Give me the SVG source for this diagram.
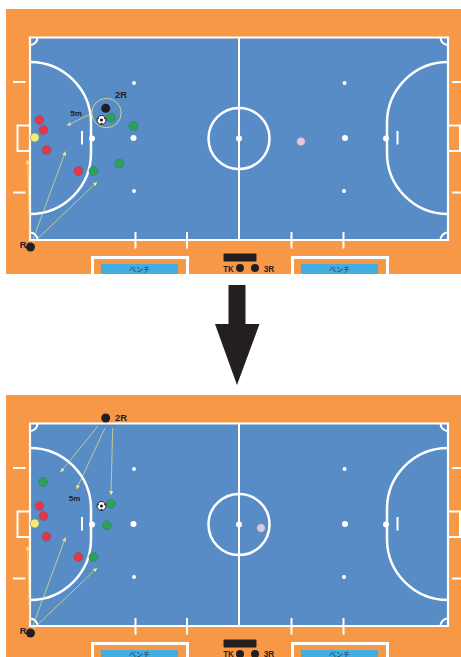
<svg xmlns="http://www.w3.org/2000/svg" width="461" height="657" viewBox="0 0 461 657">
<style>
.w{fill:none;stroke:#fff;stroke-width:2}
.p{stroke-width:2.500}
.t{stroke-width:2.200}
.b{stroke-width:3}
.d{fill:#fff}
.r{fill:#EE3340;stroke:#4a6a9a;stroke-width:.6}
.g{fill:#2DA15A;stroke:#2b7f73;stroke-width:.6}
.y{fill:#F6EE72;stroke:#5b7fa0;stroke-width:.6}
.k{fill:#231F20}
.l{fill:#DCC9DF;stroke:#7c86ad;stroke-width:.6}
.a{fill:none;stroke:#E9E67F;stroke-width:.7;marker-end:url(#ah)}
.x{font:bold 9.300px "Liberation Sans",sans-serif;fill:#231F20;text-anchor:middle}
.s{font-size:8px}
.j{font:7px "Noto Sans CJK JP",sans-serif;fill:#1f3a50;text-anchor:middle}
</style>
<defs>
<marker id="ah" markerUnits="userSpaceOnUse" markerWidth="6" markerHeight="6" refX="4" refY="2" orient="auto"><path d="M0 0L4 2L0 4Z" fill="#F1EC78"/></marker>
<clipPath id="c1"><rect x="6" y="9" width="455" height="265"/></clipPath>
<g id="court">
<rect x="6" y="9" width="455" height="265" fill="#F79847"/>
<rect x="30" y="37.500" width="418" height="202.500" fill="#578CC7"/>
<path class="w p" d="M30 62A61 61 0 0 1 91 123V153A61 61 0 0 1 30 214"/>
<path class="w p" d="M448 62A61 61 0 0 0 387 123V153A61 61 0 0 0 448 214"/>
<path class="w t" d="M30 37.500H448V240H30Z"/>
<path class="w" d="M239 37.500V240"/>
<circle class="w p" cx="239" cy="138.500" r="30.500"/>
<path class="w" d="M30 45A7.500 7.500 0 0 0 37.500 37.500M440.500 37.500A7.500 7.500 0 0 0 448 45M30 232.500A7.500 7.500 0 0 1 37.500 240M440.500 240A7.500 7.500 0 0 1 448 232.500"/>
<path class="w" d="M30 125.500H17.500V151H30M448 125.500H460V151H448"/>
<path class="w" d="M13 82H25.500M13 192.500H25.500M452 82H461M452 192.500H461M82 131V144.500M397.500 131V144.500M135.500 232V248.500M187 232V248.500M291.500 232V248.500M343.500 232V248.500"/>
<g class="d"><circle cx="134" cy="83" r="2"/><circle cx="133.500" cy="138" r="3"/><circle cx="134" cy="191" r="2"/><circle cx="92" cy="138.500" r="3"/><circle cx="239" cy="138.500" r="3"/><circle cx="344.500" cy="83" r="2"/><circle cx="345" cy="138" r="3"/><circle cx="344" cy="191" r="2"/><circle cx="386" cy="138.500" r="3"/></g>
<path class="w b" d="M92.500 275V257.500H187.500V275M292.500 275V257.500H387.500V275"/>
<rect x="101" y="264" width="77" height="11" fill="#41ADE3"/>
<rect x="301" y="264" width="77" height="11" fill="#41ADE3"/>
<rect x="223.500" y="253.500" width="33" height="8" rx="1" class="k"/>
<circle cx="240" cy="268" r="4" class="k"/><circle cx="255" cy="268" r="4" class="k"/>
</g>
<g id="ball"><circle r="4.500" fill="#fff" stroke="#231F20" stroke-width="1"/><circle r="1.600" class="k"/><path class="k" d="M-4.300 -.5L-3.300 -3L-2.400 -1.200ZM4.300 -.5L3.300 -3L2.400 -1.200ZM-1.600 3.900L0 2.800L1.600 3.900Z"/></g>
</defs>

<g id="panel-top">
<g clip-path="url(#c1)"><use href="#court"/></g>
<text class="j" x="139.500" y="272">ベンチ</text>
<text class="j" x="339.500" y="272">ベンチ</text>
<text class="x" x="228.500" y="272" textLength="10.500" lengthAdjust="spacingAndGlyphs">TK</text>
<text class="x" x="269" y="272" textLength="10.500" lengthAdjust="spacingAndGlyphs">3R</text>
</g>
<g id="panel-bottom" transform="translate(0 386)">
<g clip-path="url(#c1)"><use href="#court"/></g>
<text class="j" x="139.500" y="271">ベンチ</text>
<text class="j" x="339.500" y="271">ベンチ</text>
<text class="x" x="228.500" y="270.500" textLength="10.500" lengthAdjust="spacingAndGlyphs">TK</text>
<text class="x" x="269" y="270.500" textLength="10.500" lengthAdjust="spacingAndGlyphs">3R</text>
</g>

<g id="connectors">
<path class="a" d="M31 245L65.500 151.500"/>
<path class="a" d="M31 245L97 182"/>
<path class="a" d="M30 237L27.500 160"/>
<path class="a" d="M90.500 114L67 125.500"/>
<path class="a" d="M31 631L65.500 537.500"/>
<path class="a" d="M31 631L97 568"/>
<path class="a" d="M30 623L27.500 546"/>
<path class="a" d="M98 426L60.500 472"/>
<path class="a" d="M105 428L76.500 489"/>
<path class="a" d="M112.700 428L111 495"/>
</g>

<g id="top-players">
<circle cx="106.500" cy="113" r="14.700" fill="none" stroke="#E9E67F" stroke-width=".8"/>
<circle class="r" cx="39.500" cy="120" r="4.500"/>
<circle class="r" cx="43.500" cy="130" r="4.500"/>
<circle class="r" cx="46.500" cy="150" r="4.500"/>
<circle class="r" cx="78.300" cy="171" r="4.500"/>
<circle class="y" cx="34.700" cy="137.500" r="4.500"/>
<circle class="g" cx="111" cy="117.500" r="4.500"/>
<circle class="g" cx="133.500" cy="126" r="4.500"/>
<circle class="g" cx="119.300" cy="163.500" r="4.500"/>
<circle class="g" cx="93.500" cy="171" r="4.500"/>
<circle class="l" cx="301" cy="141.500" r="4.300"/>
<circle class="k" cx="105.700" cy="108.300" r="4.500"/>
<circle class="k" cx="30.500" cy="247" r="4.500"/>
<use href="#ball" x="101.500" y="120"/>
<text class="x" x="121" y="98">2R</text>
<text class="x s" x="76" y="115.500">5m</text>
<text class="x" x="23" y="248.300">R</text>
</g>

<g id="bottom-players">
<circle class="r" cx="39.500" cy="506" r="4.500"/>
<circle class="r" cx="43.500" cy="516" r="4.500"/>
<circle class="r" cx="46.500" cy="536.500" r="4.500"/>
<circle class="r" cx="78.300" cy="557" r="4.500"/>
<circle class="y" cx="34.700" cy="523.500" r="4.500"/>
<circle class="g" cx="43" cy="482" r="4.500"/>
<circle class="g" cx="111" cy="503.700" r="4.500"/>
<circle class="g" cx="107" cy="525.300" r="4.500"/>
<circle class="g" cx="93.500" cy="557" r="4.500"/>
<circle class="l" cx="261" cy="528" r="4.300"/>
<circle class="k" cx="105.700" cy="418" r="4.500"/>
<circle class="k" cx="30.500" cy="633" r="4.500"/>
<use href="#ball" x="101.500" y="506"/>
<text class="x" x="121" y="421">2R</text>
<text class="x s" x="74.500" y="501">5m</text>
<text class="x" x="23" y="634">R</text>
</g>

<g id="big-arrow"><path class="k" d="M228.500 285H245.500V324H259.500L237 385L215 324H228.500Z"/></g>
</svg>
